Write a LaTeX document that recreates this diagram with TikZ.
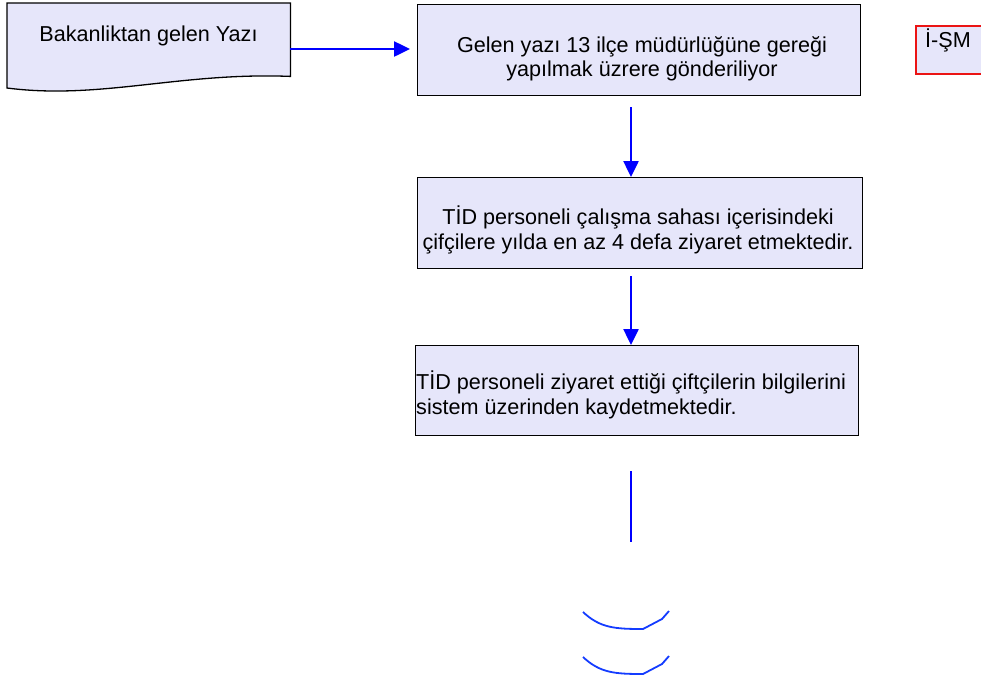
\documentclass[tikz,border=0pt]{standalone}
\usepackage{fontspec}
\setmainfont{Liberation Sans}
\usetikzlibrary{arrows.meta}
\definecolor{boxfill}{RGB}{230,230,250}
\definecolor{arcblue}{RGB}{20,60,255}
\definecolor{ismred}{RGB}{235,20,20}
\begin{document}
\begin{tikzpicture}[x=1pt,y=-1pt,
  box/.style={draw=black, line width=1.3pt, fill=boxfill, inner sep=0pt, anchor=north west},
  txt/.style={inner sep=0pt, anchor=base, font=\fontsize{21.6}{25}\selectfont},
  txtl/.style={txt, anchor=base west},
  flow/.style={draw=blue, line width=2.5pt, -{Triangle[length=16pt,width=15pt]}},
  plain/.style={draw=blue, line width=1.6pt},
  curl/.style={draw=arcblue, line width=1.8pt, line join=round},
]
\useasboundingbox (0,0) rectangle (981,681);
% document shape
\node[inner sep=0pt, anchor=north west, minimum width=283pt, minimum height=73pt] (doc) at (7,3) {};
\draw[draw=black, line width=1.3pt, fill=boxfill]
  (doc.north west) -- (doc.north east) -- (doc.south east)
  .. controls (180,72) and (100,100) .. (7,88) -- cycle;
\node[txt] (t0) at (148.5,41) {Bakanliktan gelen Yazı};
% process boxes
\node[box, minimum width=443pt, minimum height=91pt] (b1) at (417,4) {};
\node[txt] (t1a) at (642,52) {Gelen yazı 13 ilçe müdürlüğüne gereği};
\node[txt] (t1b) at (642,76) {yapılmak üzrere gönderiliyor};
\node[box, minimum width=445pt, minimum height=91pt] (b2) at (417,177) {};
\node[txt] (t2a) at (638,224) {TİD personeli çalışma sahası içerisindeki};
\node[txt] (t2b) at (638,249) {çifçilere yılda en az 4 defa ziyaret etmektedir.};
\node[box, minimum width=443pt, minimum height=90pt] (b3) at (415,345) {};
\node[txtl] (t3a) at (416,389) {TİD personeli ziyaret ettiği çiftçilerin bilgilerini};
\node[txtl] (t3b) at (416,414) {sistem üzerinden kaydetmektedir.};
% I-SM box
\node[box, draw=ismred, line width=1.8pt, minimum width=80pt, minimum height=48pt] (ism) at (915,25) {};
\node[txtl] (tism) at (925,47) {İ-ŞM};
% connectors
\coordinate (docR) at (290,49);
\coordinate (ax) at (631,0);
\draw[flow, shorten >=7pt] (docR) -- (b1.west |- docR);
\draw[flow, shorten <=11pt] (ax |- b1.south) -- (ax |- b2.north);
\draw[flow, shorten <=7pt] (ax |- b2.south) -- (ax |- b3.north);
\coordinate (l1) at (631,471);
\coordinate (l2) at (631,542);
\draw[plain] (l1) -- (l2);
% curls
\coordinate (c1s) at (583,612);
\coordinate (c1m) at (643,629);
\coordinate (c1n) at (662,619);
\coordinate (c1e) at (669,611);
\draw[curl] (c1s) .. controls (600,628) and (615,629) .. (c1m) -- (c1n) -- (c1e);
\coordinate (c2s) at (583,657);
\coordinate (c2m) at (643,674);
\coordinate (c2n) at (662,664);
\coordinate (c2e) at (669,656);
\draw[curl] (c2s) .. controls (600,673) and (615,674) .. (c2m) -- (c2n) -- (c2e);
\end{tikzpicture}
\end{document}
